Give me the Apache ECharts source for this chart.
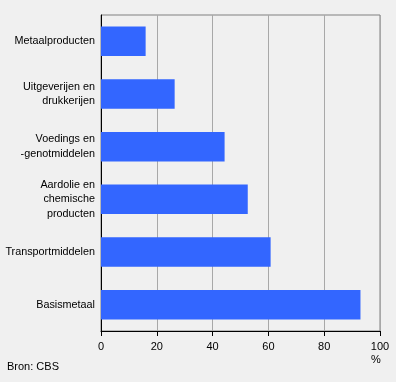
<!DOCTYPE html>
<html><head><meta charset="utf-8">
<script src="https://cdn.jsdelivr.net/npm/echarts@6/dist/echarts.min.js"></script>
<style>html,body{margin:0;padding:0;background:#f0f0f0}#c{width:396px;height:382px}</style>
</head><body><div id="c"></div>
<script>
var categories = ["Metaalproducten", "Uitgeverijen en\ndrukkerijen", "Voedings en\n-genotmiddelen", "Aardolie en\nchemische\nproducten", "Transportmiddelen", "Basismetaal"];
var values = [16.0, 26.4, 44.3, 52.6, 60.8, 93.0];
var xTicks = [0, 20, 40, 60, 80, 100];
var unitLabel = "%";
var sourceLabel = "Bron: CBS";

var font = "Arial, 'Liberation Sans', sans-serif";
var chart = echarts.init(document.getElementById('c'), null, {renderer: 'canvas'});
chart.setOption({
  backgroundColor: '#f0f0f0',
  animation: false,
  grid: {left: 101, right: 16, top: 15, bottom: 51, show: true, borderColor: '#808080', borderWidth: 1, backgroundColor: 'transparent'},
  xAxis: {
    type: 'value', min: xTicks[0], max: xTicks[xTicks.length - 1], interval: 20,
    axisLine: {show: true, lineStyle: {color: '#000', width: 1}},
    axisTick: {show: true, length: 5, lineStyle: {color: '#000'}},
    axisLabel: {color: '#000', fontFamily: font, fontSize: 11, margin: 10},
    splitLine: {show: true, lineStyle: {color: '#a8a8a8', width: 1}}
  },
  yAxis: {
    type: 'category', data: categories, inverse: true,
    axisLine: {show: true, lineStyle: {color: '#000', width: 1}},
    axisTick: {show: false},
    axisLabel: {color: '#000', fontFamily: font, fontSize: 10.8, margin: 6, lineHeight: 14.8}
  },
  series: [{
    type: 'bar', data: values, barCategoryGap: '44%',
    itemStyle: {color: '#3366ff'}
  }],
  graphic: [
    {type: 'text', left: 371, top: 354, style: {text: unitLabel, fill: '#000', font: '11px ' + font}},
    {type: 'text', left: 7, top: 361, style: {text: sourceLabel, fill: '#000', font: '11px ' + font}}
  ]
});
</script></body></html>
